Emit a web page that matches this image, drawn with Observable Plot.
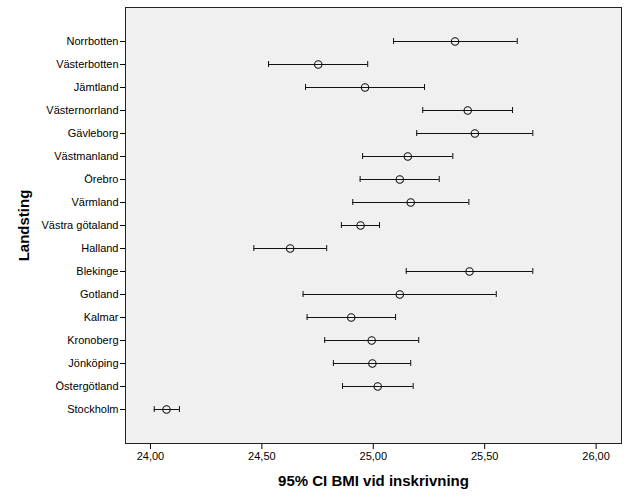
<!DOCTYPE html>
<html>
<head>
<meta charset="utf-8">
<script src="https://cdn.jsdelivr.net/npm/d3@7"></script>
<script src="https://cdn.jsdelivr.net/npm/@observablehq/plot@0.6"></script>
<style>
  html, body { margin: 0; padding: 0; background: #fff; }
  #chart svg { display: block; }
</style>
</head>
<body>
<div id="chart"></div>
<script>
const landsting = ["Norrbotten","Västerbotten","Jämtland","Västernorrland","Gävleborg","Västmanland","Örebro","Värmland","Västra götaland","Halland","Blekinge","Gotland","Kalmar","Kronoberg","Jönköping","Östergötland","Stockholm"];
const meanBMI = [25.367,24.753,24.963,25.424,25.456,25.155,25.119,25.168,24.943,24.627,25.432,25.119,24.901,24.993,24.996,25.020,24.072];
const lowerCI = [25.091,24.530,24.696,25.222,25.195,24.952,24.941,24.908,24.857,24.464,25.148,24.685,24.703,24.782,24.821,24.862,24.017];
const upperCI = [25.646,24.975,25.230,25.625,25.716,25.357,25.296,25.429,25.028,24.791,25.716,25.552,25.100,25.204,25.168,25.179,24.130];
const xTicks = [24.0, 24.5, 25.0, 25.5, 26.0];

const rows = landsting.map((name, i) => ({name, mean: meanBMI[i], lo: lowerCI[i], hi: upperCI[i]}));
const fmt = d => d.toFixed(2).replace(".", ",");

const chart = Plot.plot({
  width: 629,
  height: 504,
  marginLeft: 125,
  marginRight: 8,
  marginTop: 7,
  marginBottom: 61,
  style: {fontFamily: "'Liberation Sans', Arial, sans-serif", fontSize: "11px", color: "#000", background: "#fff"},
  x: {domain: [23.888, 26.114], ticks: xTicks, tickFormat: fmt, tickSize: 6, tickPadding: 3, label: null},
  y: {type: "band", domain: landsting, paddingInner: 0.74, paddingOuter: 1.313, tickSize: 5, tickPadding: 2, label: null},
  marks: [
    Plot.frame({fill: "#f0f0f0", stroke: "#222"}),
    Plot.ruleY(rows, {y: "name", x1: "lo", x2: "hi", stroke: "#111", strokeWidth: 1}),
    Plot.tickX(rows, {x: "lo", y: "name", stroke: "#111"}),
    Plot.tickX(rows, {x: "hi", y: "name", stroke: "#111"}),
    Plot.dot(rows, {x: "mean", y: "name", r: 3.7, stroke: "#111", strokeWidth: 1.1, fill: "none"}),
    Plot.text(["Landsting"], {frameAnchor: "left", textAnchor: "middle", lineAnchor: "middle", dx: -101, rotate: -90, fontSize: 15, fontWeight: "bold", fill: "#000"}),
    Plot.text(["95% CI BMI vid inskrivning"], {frameAnchor: "bottom", textAnchor: "middle", lineAnchor: "middle", dy: 38, fontSize: 15, fontWeight: "bold", fill: "#000"})
  ]
});
document.getElementById("chart").appendChild(chart);
</script>
</body>
</html>
